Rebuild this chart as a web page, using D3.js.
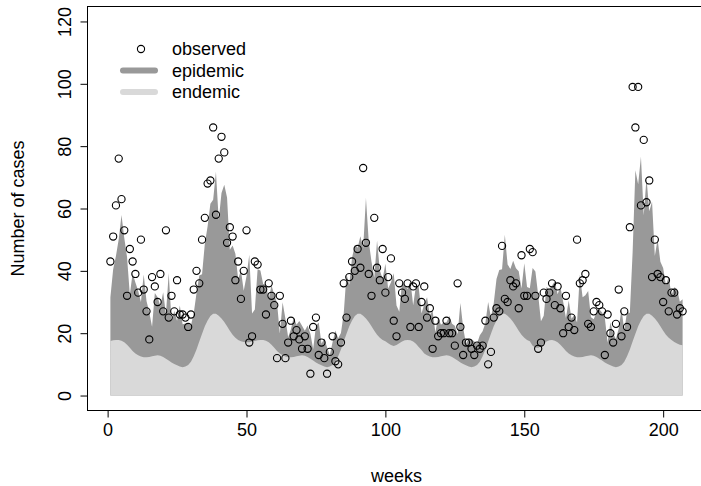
<!DOCTYPE html>
<html>
<head>
<meta charset="utf-8">
<script src="https://cdn.jsdelivr.net/npm/d3@7/dist/d3.min.js"></script>
<style>
  body { margin: 0; background: #fff; }
  svg { display: block; font-family: "Liberation Sans", Arial, Helvetica, sans-serif; }
</style>
</head>
<body>
<div id="chart"></div>
<script>
// weekly counts (points)
const observed = [43,51,61,76,63,53,32,47,43,39,
  33,50,34,27,18,38,35,30,39,27,
  53,25,32,27,37,26,26,25,22,26,
  34,40,36,50,57,68,69,86,58,76,
  83,78,49,54,51,37,43,31,40,53,
  17,19,43,42,34,34,26,36,32,29,
  12,32,23,12,17,24,19,21,18,15,
  19,15,7,22,25,13,17,12,7,14,
  19,11,10,17,36,25,38,43,40,47,
  41,73,49,39,32,57,41,37,47,33,
  38,44,24,19,36,33,31,36,22,35,
  36,22,30,35,25,28,15,24,19,20,
  20,24,20,20,16,36,22,13,17,17,
  15,13,16,15,16,24,10,14,25,28,
  27,48,31,30,37,35,36,28,45,32,
  32,47,46,32,15,17,33,31,33,36,
  29,35,28,20,32,22,25,21,50,36,
  37,39,23,22,27,30,29,27,13,26,
  20,17,23,34,19,27,22,54,99,86,
  99,61,82,62,69,38,50,39,38,30,
  37,27,33,33,26,28,27];

// fitted mean (endemic + epidemic), upper edge of dark area
const fittedTotal = [31.5,40.5,44.8,50.1,57.9,50.5,44.4,32.3,39.2,36.3,
  33.6,30.0,38.8,30.3,26.7,22.1,32.9,31.5,28.7,33.1,
  26.1,39.3,23.9,27.1,24.0,28.9,22.9,23.1,23.1,22.5,
  26.4,32.8,38.5,38.9,48.7,54.3,61.5,62.8,71.8,56.3,
  65.0,67.6,63.5,46.8,48.1,45.5,37.4,40.2,33.6,38.3,
  45.2,26.3,27.6,40.5,40.1,35.8,35.6,30.9,35.4,32.3,
  29.7,19.9,29.9,24.7,18.7,21.3,25.1,22.7,23.9,22.4,
  20.8,22.5,19.8,14.9,22.3,23.4,16.6,18.3,15.5,13.0,
  17.2,20.9,18.4,20.1,26.3,38.9,35.5,44.2,48.3,47.4,
  51.1,47.3,63.4,49.6,42.9,37.8,49.7,40.2,37.4,42.3,
  34.3,36.3,39.2,28.9,26.9,36.4,35.2,34.2,36.8,29.0,
  35.2,34.7,26.3,29.4,31.5,25.8,27.1,20.3,25.1,22.7,
  23.4,23.5,25.5,23.0,22.4,19.7,29.7,21.8,16.6,18.3,
  18.1,17.3,16.7,19.3,20.6,23.3,30.0,25.1,29.6,37.4,
  40.3,40.5,51.6,42.0,40.6,43.2,40.8,39.9,34.3,42.4,
  34.8,34.4,40.9,39.8,32.3,23.8,25.6,34.8,34.1,35.3,
  36.7,32.5,34.9,30.1,24.9,30.5,24.6,25.8,23.4,38.8,
  31.5,32.2,33.5,25.1,24.5,26.7,27.7,26.6,24.9,17.0,
  23.5,19.9,18.1,21.5,27.8,20.9,26.9,26.5,45.9,72.3,
  67.8,76.6,57.8,69.7,59.1,62.2,44.8,50.1,42.9,40.9,
  35.4,38.1,32.1,34.7,34.2,30.1,30.9];

// endemic component, upper edge of light area
const endemic = [
  17.5,17.7,17.8,17.8,17.6,17.1,16.3,15.3,14.3,13.5,
  12.9,12.5,12.3,12.3,12.4,12.6,12.8,12.9,12.8,12.4,
  11.8,11.2,10.6,10.1,9.7,9.3,9.1,9.3,9.8,10.8,
  12.6,14.8,17.3,19.8,22.2,24.1,25.5,26.2,26.2,25.6,
  24.7,23.6,22.2,20.8,19.5,18.5,17.8,17.4,17.2,17.1,
  17.1,17.3,
  17.5,17.7,17.8,17.8,17.6,17.1,16.3,15.3,14.3,13.5,
  12.9,12.5,12.3,12.3,12.4,12.6,12.8,12.9,12.8,12.4,
  11.8,11.2,10.6,10.1,9.7,9.3,9.1,9.3,9.8,10.8,
  12.6,14.8,17.3,19.8,22.2,24.1,25.5,26.2,26.2,25.6,
  24.7,23.6,22.2,20.8,19.5,18.5,17.8,17.4,16.8,16.2,
  15.9,16.2,
  16.8,17.3,17.7,17.8,17.7,17.3,16.6,15.6,14.6,13.5,
  12.9,12.5,12.3,12.3,12.4,12.6,12.8,12.9,12.8,12.4,
  11.8,11.2,10.6,10.1,9.7,9.3,9.1,9.3,9.8,10.8,
  12.6,14.8,17.3,19.8,22.2,24.1,25.5,26.2,26.2,25.6,
  24.7,23.6,22.2,20.8,19.5,18.5,17.8,17.4,16.0,15.4,
  15.3,15.8,
  16.6,17.3,17.7,17.8,17.6,17.1,16.3,15.3,14.3,13.5,
  12.9,12.5,12.3,12.3,12.4,12.6,12.8,12.9,12.8,12.4,
  11.8,11.2,10.6,10.1,9.7,9.3,9.1,9.3,9.8,10.8,
  12.6,14.8,17.3,19.8,22.2,24.1,25.5,26.2,26.2,25.6,
  24.7,23.6,22.2,20.8,19.5,18.5,17.8,17.2,16.7,16.3,
  16.1];

const weeks = d3.range(1, observed.length + 1);
const xTicks = [0, 50, 100, 150, 200];
const yTicks = [0, 20, 40, 60, 80, 100, 120];
const legendLabels = ["observed", "epidemic", "endemic"];

const W = 701, H = 486;
const colEpi = "#999999", colEnd = "#d9d9d9";

const svg = d3.select("#chart").append("svg")
  .attr("width", W).attr("height", H);

svg.append("rect").attr("width", W).attr("height", H).attr("fill", "#fff");

// R-style 4% padded domains
const x = d3.scaleLinear().domain([-7.24, 215.24]).range([87.5, 705.5]);
const y = d3.scaleLinear().domain([-4.8, 124.8]).range([410.5, 6.5]);

const rows = weeks.map((w, i) => ({ week: w, obs: observed[i], total: fittedTotal[i], end: endemic[i] }));

const plot = svg.append("g");

plot.append("path").datum(rows)
  .attr("fill", colEpi)
  .attr("d", d3.area().x(d => x(d.week)).y0(y(0)).y1(d => y(d.total)));

plot.append("path").datum(rows)
  .attr("fill", colEnd)
  .attr("d", d3.area().x(d => x(d.week)).y0(y(0)).y1(d => y(d.end)));

plot.append("g").selectAll("circle").data(rows).enter().append("circle")
  .attr("cx", d => x(d.week)).attr("cy", d => y(d.obs)).attr("r", 3.6)
  .attr("fill", "none").attr("stroke", "#000").attr("stroke-width", 1.1);

// box
svg.append("rect")
  .attr("x", 87.5).attr("y", 6.5).attr("width", 618).attr("height", 404)
  .attr("fill", "none").attr("stroke", "#000").attr("stroke-width", 1);

// x axis
const xAxis = svg.append("g").attr("transform", "translate(0,410.5)")
  .call(d3.axisBottom(x).tickValues(xTicks).tickSize(7).tickPadding(6).tickFormat(d3.format("d")));
xAxis.select(".domain").remove();
xAxis.selectAll("text").attr("font-size", 18).attr("fill", "#000").attr("font-family", null);
xAxis.selectAll("line").attr("stroke", "#000");

// y axis, labels parallel to axis like R
const yAxis = svg.append("g").attr("transform", "translate(87.5,0)")
  .call(d3.axisLeft(y).tickValues(yTicks).tickSize(7).tickFormat(d3.format("d")));
yAxis.select(".domain").remove();
yAxis.selectAll("line").attr("stroke", "#000");
yAxis.selectAll("text")
  .attr("x", null).attr("dy", null)
  .attr("text-anchor", "middle")
  .attr("transform", "translate(-17,0) rotate(-90)")
  .attr("font-size", 18).attr("fill", "#000").attr("font-family", null);

// titles
svg.append("text").attr("x", 396.5).attr("y", 482)
  .attr("text-anchor", "middle").attr("font-size", 18).text("weeks");
svg.append("text")
  .attr("transform", "translate(23.5,208.5) rotate(-90)")
  .attr("text-anchor", "middle").attr("font-size", 18).text("Number of cases");

// legend
const lg = svg.append("g");
lg.append("circle").attr("cx", 141).attr("cy", 49).attr("r", 3.6)
  .attr("fill", "none").attr("stroke", "#000").attr("stroke-width", 1.1);
lg.append("line").attr("x1", 123).attr("x2", 155).attr("y1", 70.5).attr("y2", 70.5)
  .attr("stroke", colEpi).attr("stroke-width", 6).attr("stroke-linecap", "round");
lg.append("line").attr("x1", 123).attr("x2", 155).attr("y1", 92).attr("y2", 92)
  .attr("stroke", colEnd).attr("stroke-width", 6).attr("stroke-linecap", "round");
lg.selectAll("text.lab").data(legendLabels).enter().append("text")
  .attr("class", "lab")
  .attr("x", 172).attr("y", (d, i) => 55.3 + i * 21.5)
  .attr("font-size", 18).text(d => d);
</script>
</body>
</html>
